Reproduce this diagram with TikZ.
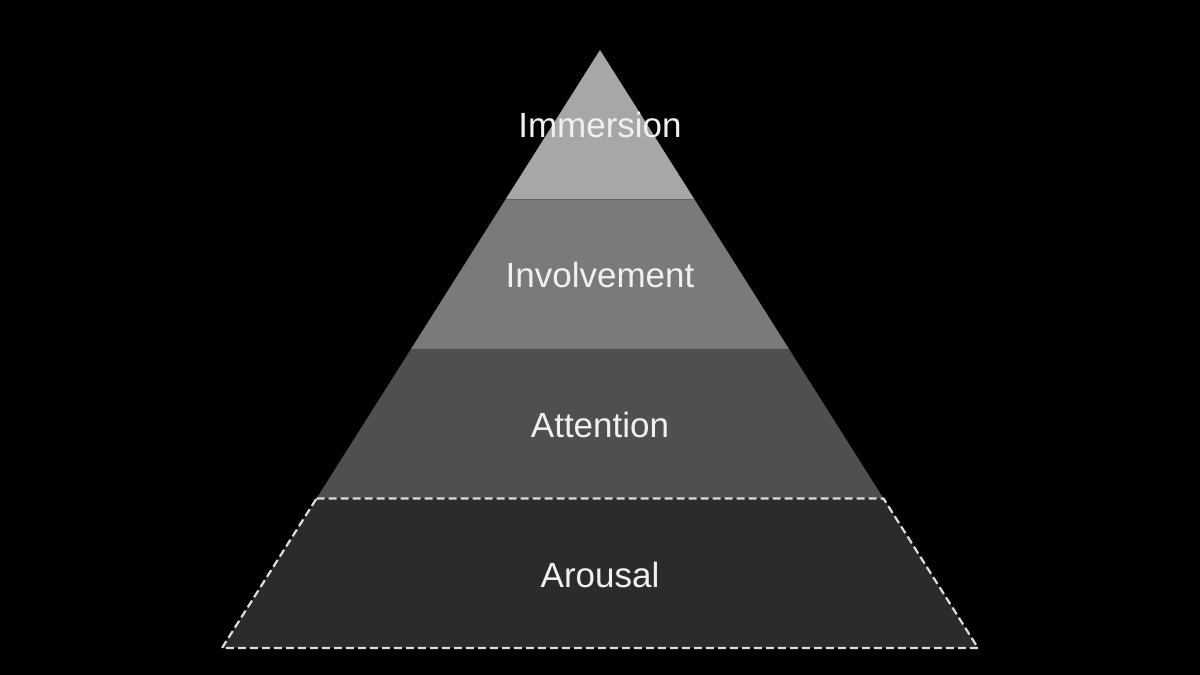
\documentclass[tikz,border=0pt]{standalone}
\usepackage{fontspec}
\setmainfont{Liberation Sans}
\usetikzlibrary{calc,positioning}
\definecolor{tierA}{HTML}{A8A6A9}
\definecolor{tierB}{HTML}{7A797B}
\definecolor{tierC}{HTML}{504E51}
\definecolor{tierD}{HTML}{2B2B2D}
\definecolor{edgewhite}{HTML}{DCDCDC}
\tikzset{
  tierlabel/.style={text=white!94!black, inner sep=0pt, font=\fontsize{35}{40}\selectfont},
  tierfill/.style={draw=none},
  tierdash/.style={draw=edgewhite, line width=2.2pt, dash pattern=on 8pt off 4pt, line join=round},
}

\begin{document}
\begin{tikzpicture}[x=1pt, y=1pt]
  % background
  \fill[black] (0,0) rectangle (1200,675);
  \useasboundingbox (0,0) rectangle (1200,675);

  % pyramid corners
  \coordinate (apex) at (600,625);
  \coordinate (bl) at (222,27);
  \coordinate (br) at (978,27);
  \coordinate (l1) at ($(apex)!0.25!(bl)$);
  \coordinate (r1) at ($(apex)!0.25!(br)$);
  \coordinate (l2) at ($(apex)!0.5!(bl)$);
  \coordinate (r2) at ($(apex)!0.5!(br)$);
  \coordinate (l3) at ($(apex)!0.75!(bl)$);
  \coordinate (r3) at ($(apex)!0.75!(br)$);

  % tiers
  \fill[tierA] (apex) -- (r1) -- (l1) -- cycle;
  \fill[tierB] (l1) -- (r1) -- (r2) -- (l2) -- cycle;
  \fill[tierC] (l2) -- (r2) -- (r3) -- (l3) -- cycle;
  \fill[tierD] (l3) -- (r3) -- (br) -- (bl) -- cycle;
  \draw[tierdash] (l3) -- (r3) -- (br) -- (bl) -- cycle;

  % labels
  \node[tierlabel] (immersion) at (600,550) {Immersion};
  \node[tierlabel] (involvement) at (600,400) {Involvement};
  \node[tierlabel] (attention) at (600,250) {Attention};
  \node[tierlabel] (arousal) at (600,100) {Arousal};
\end{tikzpicture}
\end{document}
